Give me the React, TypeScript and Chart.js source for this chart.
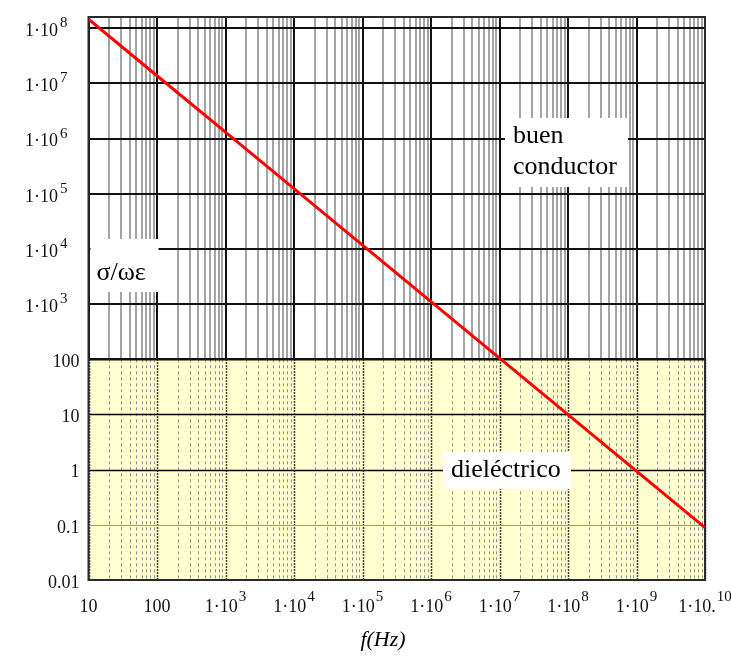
import React, { useEffect, useRef } from "react";
import { Chart, registerables } from "chart.js";

Chart.register(...registerables);

// ---- data ----
const freqHz = [10, 100, 1e3, 1e4, 1e5, 1e6, 1e7, 1e8, 1e9, 1e10];
const sigmaOverOmegaEps = [1.46e8, 1.38e7, 1.31e6, 1.24e5, 1.17e4, 1.11e3, 105, 9.96, 0.94, 0.089];

const xTickValues = [10, 100, 1e3, 1e4, 1e5, 1e6, 1e7, 1e8, 1e9, 1e10];
const xTickBase = ["10", "100", "1·10", "1·10", "1·10", "1·10", "1·10", "1·10", "1·10", "1·10."];
const xTickExp = ["", "", "3", "4", "5", "6", "7", "8", "9", "10"];

const yTickValues = [0.01, 0.1, 1, 10, 100, 1e3, 1e4, 1e5, 1e6, 1e7, 1e8];
const yTickBase = ["0.01", "0.1", "1", "10", "100", "1·10", "1·10", "1·10", "1·10", "1·10", "1·10"];
const yTickExp = ["", "", "", "", "", "3", "4", "5", "6", "7", "8"];

const xAxisTitle = "f(Hz)";
const regionThreshold = 100;
const labelSigma = "σ/ωε";
const labelConductor = ["buen", "conductor"];
const labelDielectric = "dieléctrico";

const SERIF = '"Liberation Serif", "Times New Roman", serif';

const isMajor = (v: number) => Math.abs(Math.log10(v) - Math.round(Math.log10(v))) < 1e-9;

const overlayPlugin = {
  id: "overlay",
  beforeDatasetsDraw(chart: any) {
    const { ctx, chartArea } = chart;
    const xs = chart.scales.x;
    const ys = chart.scales.y;
    const { left, right, bottom, top } = chartArea;
    const y100 = ys.getPixelForValue(regionThreshold);
    ctx.save();
    // yellow dielectric region
    ctx.fillStyle = "#FFFFD0";
    ctx.fillRect(left, y100, right - left, bottom - y100);
    // vertical lines in yellow region
    for (const t of xs.ticks) {
      const px = Math.round(xs.getPixelForValue(t.value)) + 0.5;
      ctx.beginPath();
      if (isMajor(t.value)) {
        ctx.strokeStyle = "#000";
        ctx.lineWidth = 1.5;
        ctx.setLineDash([1.5, 1.5]);
      } else {
        ctx.strokeStyle = "#8f8f8f";
        ctx.lineWidth = 1;
        ctx.setLineDash([3, 3]);
      }
      ctx.moveTo(px, y100);
      ctx.lineTo(px, bottom);
      ctx.stroke();
    }
    ctx.setLineDash([]);
    // horizontal lines in yellow region
    const hl = [
      { v: 10, c: "#000", w: 1.5 },
      { v: 1, c: "#000", w: 1.5 },
      { v: 0.1, c: "#999", w: 1 },
      { v: 100, c: "#111", w: 2 },
    ];
    for (const h of hl) {
      const py = Math.round(ys.getPixelForValue(h.v)) + 0.5;
      ctx.beginPath();
      ctx.strokeStyle = h.c;
      ctx.lineWidth = h.w;
      ctx.moveTo(left, py);
      ctx.lineTo(right, py);
      ctx.stroke();
    }
    // frame
    ctx.strokeStyle = "#2a2a2a";
    ctx.lineWidth = 2;
    ctx.strokeRect(left, top, right - left, bottom - top);

    // annotation boxes
    ctx.fillStyle = "#fff";
    ctx.textBaseline = "alphabetic";
    ctx.textAlign = "left";
    ctx.font = `26px ${SERIF}`;
    // sigma/omega epsilon
    ctx.fillRect(left + 2, top + 222, 68, 53);
    ctx.fillStyle = "#000";
    ctx.fillText(labelSigma, left + 8, top + 263);
    // buen conductor
    ctx.fillStyle = "#fff";
    ctx.fillRect(505, top + 101, 123, 69);
    ctx.fillStyle = "#000";
    ctx.fillText(labelConductor[0], 513, top + 126);
    ctx.fillText(labelConductor[1], 513, top + 157);
    // dielectric
    ctx.fillStyle = "#fff";
    ctx.fillRect(443, 452, 128, 37);
    ctx.fillStyle = "#000";
    ctx.fillText(labelDielectric, 451, 477);
    ctx.restore();
  },
  afterDraw(chart: any) {
    const { ctx, chartArea } = chart;
    const xs = chart.scales.x;
    const ys = chart.scales.y;
    ctx.save();
    ctx.fillStyle = "#111";
    ctx.textBaseline = "middle";
    const baseFont = `18px ${SERIF}`;
    const expFont = `15px ${SERIF}`;
    // y labels
    yTickValues.forEach((v, i) => {
      const py = ys.getPixelForValue(v);
      if (yTickExp[i]) {
        ctx.font = expFont;
        ctx.textAlign = "right";
        const expRight = chartArea.left - 21;
        ctx.fillText(yTickExp[i], expRight, py - 5);
        const ew = ctx.measureText(yTickExp[i]).width;
        ctx.font = baseFont;
        ctx.fillText(yTickBase[i], expRight - ew - 2, py + 3);
      } else {
        ctx.font = baseFont;
        ctx.textAlign = "right";
        ctx.fillText(yTickBase[i], chartArea.left - 9, py + 3);
      }
    });
    // x labels
    xTickValues.forEach((v, i) => {
      const px = xs.getPixelForValue(v);
      ctx.font = baseFont;
      const bw = ctx.measureText(xTickBase[i]).width;
      ctx.font = expFont;
      const ew = xTickExp[i] ? ctx.measureText(xTickExp[i]).width + 1 : 0;
      const start = px - (bw + ew) / 2;
      ctx.textAlign = "left";
      ctx.font = baseFont;
      ctx.fillText(xTickBase[i], start, chartArea.bottom + 27);
      if (xTickExp[i]) {
        ctx.font = expFont;
        ctx.fillText(xTickExp[i], start + bw + 1, chartArea.bottom + 17);
      }
    });
    ctx.restore();
  },
};

export default function App() {
  const ref = useRef<HTMLCanvasElement | null>(null);
  useEffect(() => {
    if (!ref.current) return;
    const chart = new Chart(ref.current, {
      type: "line",
      data: {
        datasets: [
          {
            data: freqHz.map((f, i) => ({ x: f, y: sigmaOverOmegaEps[i] })),
            borderColor: "#ff0000",
            borderWidth: 3,
            pointRadius: 0,
            tension: 0,
            fill: false,
          },
        ],
      },
      options: {
        animation: false,
        responsive: false,
        devicePixelRatio: 1,
        layout: { padding: { left: 61, right: 26, top: 17, bottom: 0 } },
        plugins: {
          legend: { display: false },
          tooltip: { enabled: false },
          title: {
            display: true,
            position: "bottom",
            text: xAxisTitle,
            color: "#000",
            font: { family: SERIF, size: 22, style: "italic", weight: "normal", lineHeight: 1.2 },
            padding: { top: 0, bottom: 4 },
          },
        },
        scales: {
          x: {
            type: "logarithmic",
            min: 10,
            max: 1e10,
            afterBuildTicks: (scale: any) => {
              const arr: any[] = [];
              xTickValues.forEach((d, i) => {
                if (i === xTickValues.length - 1) {
                  arr.push({ value: d });
                  return;
                }
                for (let m = 1; m <= 9; m++) arr.push({ value: d * m });
              });
              scale.ticks = arr;
            },
            afterFit: (scale: any) => {
              scale.height = 46.6;
            },
            ticks: { display: false, autoSkip: false },
            border: { display: false },
            grid: {
              drawTicks: false,
              color: (c: any) => (isMajor(c.tick.value) ? "#111" : "#a4a4a4"),
              lineWidth: 2,
            },
          },
          y: {
            type: "logarithmic",
            min: 0.01,
            max: 1.6e8,
            afterBuildTicks: (scale: any) => {
              scale.ticks = yTickValues.map((v) => ({ value: v }));
            },
            afterFit: (scale: any) => {
              scale.width = 27.5;
            },
            ticks: { display: false, autoSkip: false },
            border: { display: false },
            grid: { drawTicks: false, color: "#111", lineWidth: 2 },
          },
        },
      } as any,
      plugins: [overlayPlugin],
    });
    return () => chart.destroy();
  }, []);
  return (
    <div style={{ position: "fixed", left: 0, top: 0, width: 731, height: 657, background: "#fff" }}>
      <canvas ref={ref} width={731} height={657} style={{ width: 731, height: 657, display: "block" }} />
    </div>
  );
}
